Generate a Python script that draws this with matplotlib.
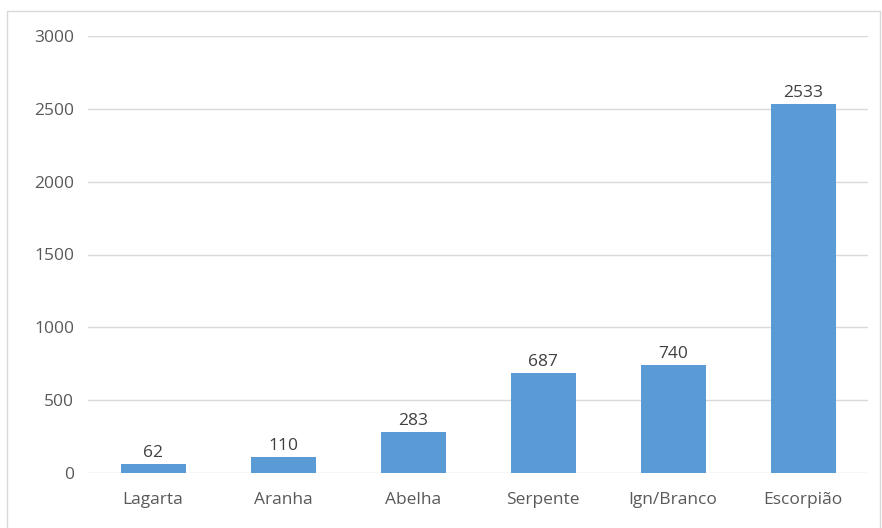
import matplotlib.pyplot as plt
from matplotlib.patches import Rectangle

categorias = ["Lagarta", "Aranha", "Abelha", "Serpente", "Ign/Branco", "Escorpião"]
valores = [62, 110, 283, 687, 740, 2533]
yticks = [0, 500, 1000, 1500, 2000, 2500, 3000]

plt.rcParams['font.family'] = ['Open Sans', 'DejaVu Sans']

fig = plt.figure(figsize=(8.82, 5.28), dpi=100)
ax = fig.add_axes([88 / 882, 55 / 528, 780 / 882, 437 / 528])

# moldura leve em volta do gráfico
fig.patches.append(Rectangle((7 / 882, -0.1), 873 / 882, 1.1 - 11 / 528,
                             transform=fig.transFigure, fill=False,
                             edgecolor='#d9d9d9', linewidth=1))

x = range(len(categorias))
barras = ax.bar(x, valores, width=0.5, color='#5b9bd5', zorder=3)
for b, v in zip(barras, valores):
    ax.text(b.get_x() + b.get_width() / 2, v + 20, str(v), ha='center', va='bottom',
            fontsize=12.5, color='#404040')

ax.set_xlim(-0.5, len(categorias) - 0.5)
ax.set_ylim(0, 3000)
ax.set_yticks(yticks)
ax.set_xticks(list(x))
ax.set_xticklabels(categorias)
ax.grid(axis='y', color='#d9d9d9', linewidth=1, zorder=0)
for s in ax.spines.values():
    s.set_visible(False)
ax.tick_params(length=0, colors='#595959', labelsize=12.5)
ax.tick_params(axis='y', pad=10)
ax.tick_params(axis='x', pad=14)

fig.savefig("out.png", dpi=100)
